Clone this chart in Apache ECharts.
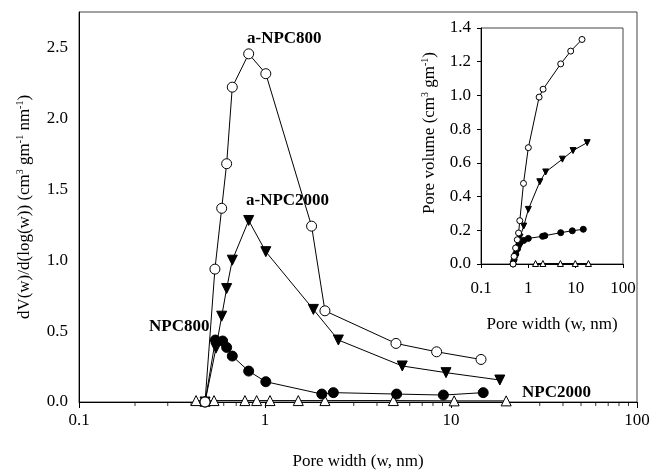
<!DOCTYPE html>
<html>
<head>
<meta charset="utf-8">
<script src="https://cdn.jsdelivr.net/npm/echarts@6/dist/echarts.min.js"></script>
<style>
  html, body { margin: 0; padding: 0; background: #fff; }
  #chart { width: 651px; height: 473px; }
</style>
</head>
<body>
<div id="chart"></div>
<script>
// main plot: dV(w)/d(log(w)) against pore width (nm)
var aNpc800W  = [0.476, 0.538, 0.585, 0.622, 0.667, 0.817, 1.01, 1.78, 2.10, 5.06, 8.37, 14.5];
var aNpc800V  = [0, 0.937, 1.366, 1.68, 2.22, 2.455, 2.315, 1.24, 0.643, 0.413, 0.354, 0.30];
var aNpc2000W = [0.476, 0.545, 0.585, 0.622, 0.667, 0.817, 1.01, 1.82, 2.48, 5.47, 9.4, 18.3];
var aNpc2000V = [0, 0.38, 0.605, 0.80, 1.0, 1.28, 1.06, 0.653, 0.437, 0.254, 0.207, 0.155];
var npc800W   = [0.476, 0.541, 0.592, 0.622, 0.667, 0.817, 1.01, 2.02, 2.33, 5.1, 9.1, 14.9];
var npc800V   = [0, 0.437, 0.43, 0.385, 0.324, 0.218, 0.143, 0.056, 0.066, 0.056, 0.049, 0.066];
var npc2000W  = [0.426, 0.476, 0.532, 0.78, 0.902, 1.064, 1.51, 2.10, 4.9, 10.4, 19.8];
var npc2000V  = [0.01, 0.005, 0.01, 0.01, 0.01, 0.01, 0.01, 0.01, 0.01, 0.008, 0.008];

// inset: cumulative pore volume
var inAnpc800W  = [0.476, 0.50, 0.538, 0.585, 0.622, 0.66, 0.79, 1.0, 1.69, 2.05, 4.83, 7.85, 13.6];
var inAnpc800V  = [0, 0.045, 0.095, 0.144, 0.184, 0.257, 0.478, 0.69, 0.99, 1.037, 1.187, 1.263, 1.332];
var inAnpc2000W = [0.476, 0.545, 0.585, 0.622, 0.667, 0.80, 1.0, 1.75, 2.33, 5.25, 8.8, 17.5];
var inAnpc2000V = [0, 0.04, 0.08, 0.12, 0.16, 0.225, 0.324, 0.488, 0.546, 0.622, 0.673, 0.72];
var inNpc800W   = [0.476, 0.50, 0.541, 0.592, 0.622, 0.667, 0.80, 1.0, 2.0, 2.23, 4.83, 8.5, 14.5];
var inNpc800V   = [0, 0.025, 0.06, 0.09, 0.11, 0.125, 0.14, 0.152, 0.164, 0.168, 0.186, 0.197, 0.206];
var inNpc2000W  = [1.42, 2.03, 4.76, 9.8, 18.6];
var inNpc2000V  = [0.003, 0.003, 0.003, 0.003, 0.003];

// minor tick positions of the main log axis (2..9 in each decade)
var xMinor = [0.2, 0.3, 0.4, 0.5, 0.6, 0.7, 0.8, 0.9, 2, 3, 4, 5, 6, 7, 8, 9, 20, 30, 40, 50, 60, 70, 80, 90];

var FONT = 'Liberation Serif';

function zip(a, b) {
  return a.map(function (v, i) { return [v, b[i]]; });
}

function line(name, xs, ys, symbol, filled, size, rotate, xi, yi) {
  return {
    name: name,
    type: 'line',
    xAxisIndex: xi,
    yAxisIndex: yi,
    data: zip(xs, ys),
    symbol: symbol,
    symbolSize: size,
    symbolRotate: rotate || 0,
    showAllSymbol: true,
    lineStyle: { color: '#000', width: 1 },
    itemStyle: {
      color: filled ? '#000' : '#fff',
      borderColor: '#000',
      borderWidth: 1
    },
    emphasis: { disabled: true },
    animation: false
  };
}

var chart = echarts.init(document.getElementById('chart'));

var option = {
  backgroundColor: '#fff',
  animation: false,
  textStyle: { fontFamily: FONT, color: '#000' },
  grid: [
    { left: 79, top: 12, width: 558, height: 390, outerBoundsMode: 'none', show: true, borderColor: '#444', borderWidth: 1, backgroundColor: 'transparent' },
    { left: 481, top: 28, width: 142, height: 236, outerBoundsMode: 'none', show: true, borderColor: '#444', borderWidth: 1, backgroundColor: 'transparent' }
  ],
  xAxis: [
    {
      gridIndex: 0, type: 'log', logBase: 10, min: 0.1, max: 100, position: 'bottom',
      name: 'Pore width (w, nm)', nameLocation: 'middle', nameGap: 51,
      nameTextStyle: { fontFamily: FONT, fontSize: 17, color: '#000' },
      axisLine: { lineStyle: { color: '#000' } },
      axisTick: { show: true, length: 6, lineStyle: { color: '#000' } },
      axisLabel: { fontFamily: FONT, fontSize: 17, color: '#000', margin: 10 },
      splitLine: { show: false }
    },
    {
      gridIndex: 1, type: 'log', logBase: 10, min: 0.1, max: 100, position: 'bottom',
      name: 'Pore width (w, nm)', nameLocation: 'middle', nameGap: 52,
      nameTextStyle: { fontFamily: FONT, fontSize: 17, color: '#000' },
      axisLine: { lineStyle: { color: '#000' } },
      axisTick: { show: true, length: 4, lineStyle: { color: '#000' } },
      axisLabel: { fontFamily: FONT, fontSize: 17, color: '#000', margin: 16 },
      splitLine: { show: false }
    }
  ],
  yAxis: [
    {
      gridIndex: 0, type: 'value', min: 0, max: 2.75, interval: 0.5,
      name: 'dV(w)/d(log(w)) (cm{s|3} gm{s|-1} nm{s|-1})',
      nameLocation: 'middle', nameGap: 44,
      nameTextStyle: {
        fontFamily: FONT, fontSize: 17, color: '#000',
        rich: { s: { fontFamily: FONT, fontSize: 10, verticalAlign: 'top', lineHeight: 20, color: '#000' } }
      },
      axisLine: { show: true, onZero: false, lineStyle: { color: '#000' } },
      axisTick: { show: false },
      axisLabel: {
        fontFamily: FONT, fontSize: 17, color: '#000', margin: 11,
        formatter: function (v) { return v > 2.6 ? '' : v.toFixed(1); }
      },
      splitLine: { show: false }
    },
    {
      gridIndex: 1, type: 'value', min: 0, max: 1.4, interval: 0.2,
      name: 'Pore volume (cm{s|3} gm{s|-1})',
      nameLocation: 'middle', nameGap: 41,
      nameTextStyle: {
        fontFamily: FONT, fontSize: 17, color: '#000', padding: [0, 0, 0, 26],
        rich: { s: { fontFamily: FONT, fontSize: 10, verticalAlign: 'top', lineHeight: 20, color: '#000' } }
      },
      axisLine: { show: true, onZero: false, lineStyle: { color: '#000' } },
      axisTick: { show: true, length: 4, lineStyle: { color: '#000' } },
      axisLabel: {
        fontFamily: FONT, fontSize: 17, color: '#000', margin: 10,
        formatter: function (v) { return v.toFixed(1); }
      },
      splitLine: { show: false }
    }
  ],
  graphic: [
    { type: 'text', left: 247, top: 30, style: { text: 'a-NPC800', font: 'bold 17px "Liberation Serif"', fill: '#000' } },
    { type: 'text', left: 246, top: 192, style: { text: 'a-NPC2000', font: 'bold 17px "Liberation Serif"', fill: '#000' } },
    { type: 'text', left: 149, top: 318, style: { text: 'NPC800', font: 'bold 17px "Liberation Serif"', fill: '#000' } },
    { type: 'text', left: 522, top: 384, style: { text: 'NPC2000', font: 'bold 17px "Liberation Serif"', fill: '#000' } }
  ],
  series: [
    {
      // minor ticks of the main x axis, hung just below the axis line
      name: 'minor ticks', type: 'scatter', xAxisIndex: 0, yAxisIndex: 0,
      data: xMinor.map(function (v) { return [v, 0]; }),
      symbol: 'rect', symbolSize: [1, 4], symbolOffset: [0, 2],
      itemStyle: { color: '#000' },
      clip: false, silent: true, z: 1
    },
    line('NPC2000', npc2000W, npc2000V, 'triangle', false, 10, 0, 0, 0),
    line('NPC800', npc800W, npc800V, 'circle', true, 10, 0, 0, 0),
    line('a-NPC2000', aNpc2000W, aNpc2000V, 'triangle', true, 10, 180, 0, 0),
    line('a-NPC800', aNpc800W, aNpc800V, 'circle', false, 10, 0, 0, 0),
    line('NPC2000 cum', inNpc2000W, inNpc2000V, 'triangle', false, 6, 0, 1, 1),
    line('NPC800 cum', inNpc800W, inNpc800V, 'circle', true, 6, 0, 1, 1),
    line('a-NPC2000 cum', inAnpc2000W, inAnpc2000V, 'triangle', true, 6, 180, 1, 1),
    line('a-NPC800 cum', inAnpc800W, inAnpc800V, 'circle', false, 6, 0, 1, 1)
  ]
};

chart.setOption(option);
</script>
</body>
</html>
